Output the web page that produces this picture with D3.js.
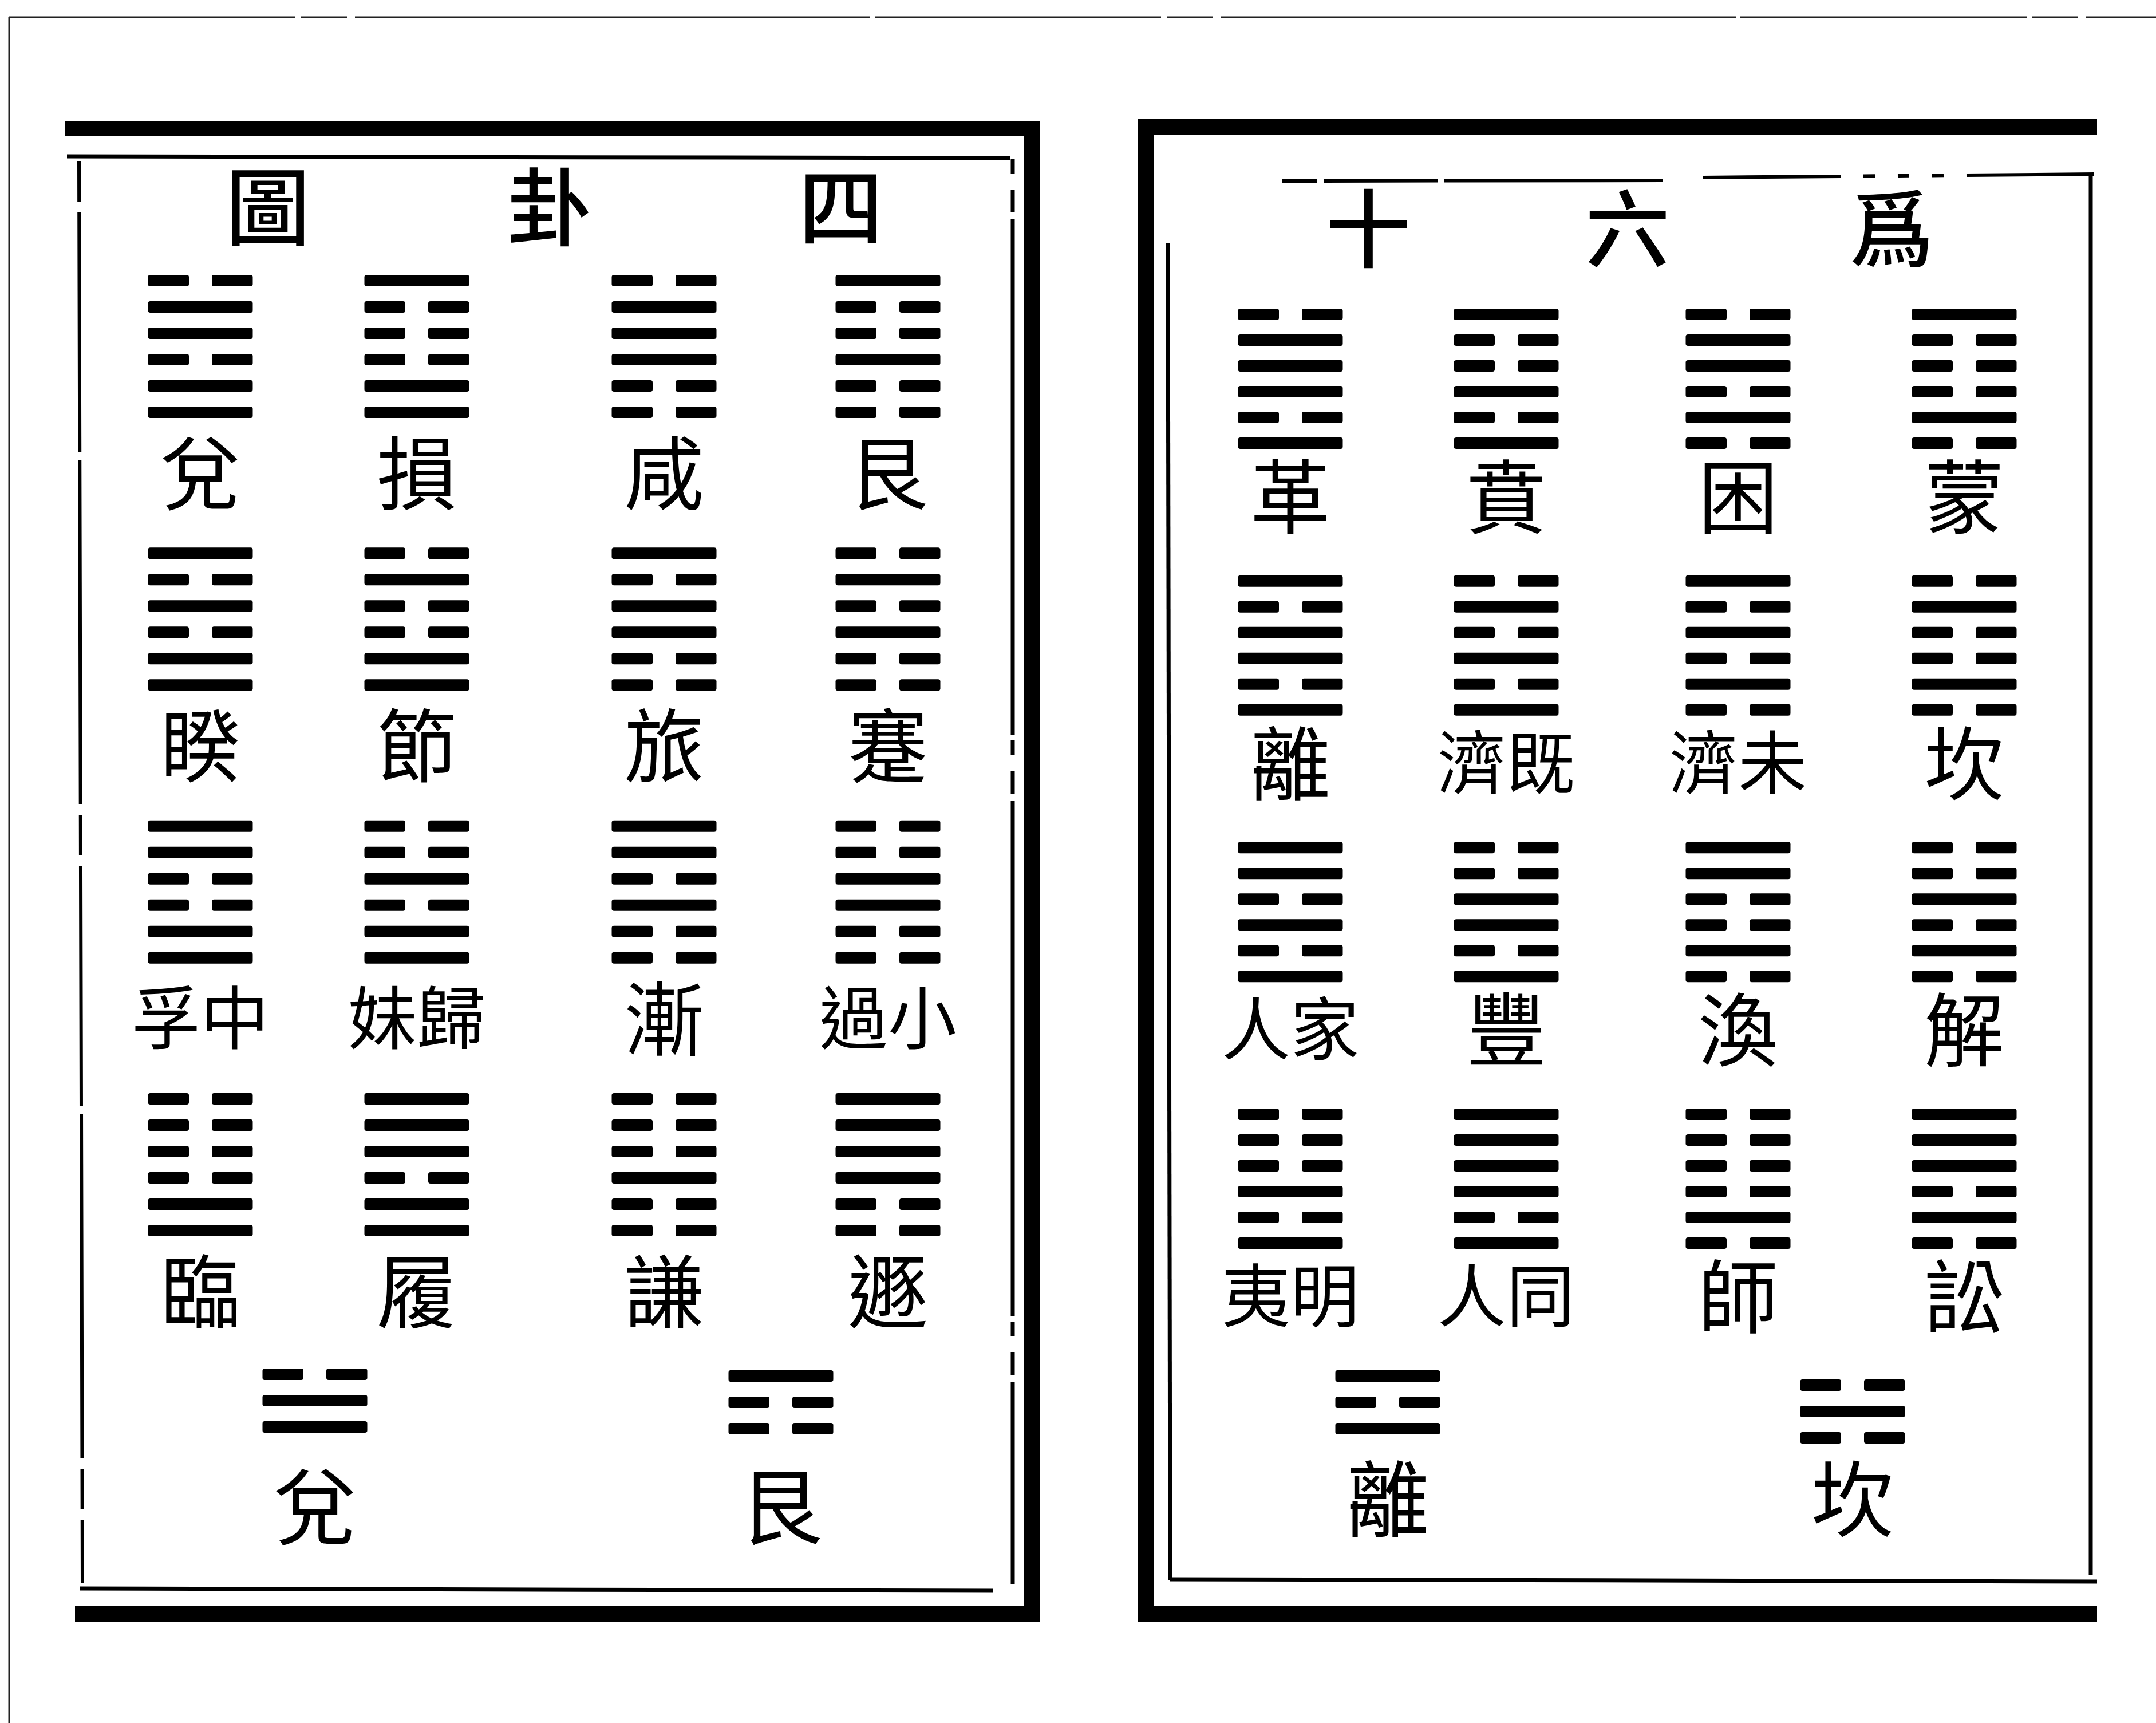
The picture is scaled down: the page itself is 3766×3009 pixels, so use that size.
<!DOCTYPE html>
<html><head><meta charset="utf-8">
<script src="https://cdn.jsdelivr.net/npm/d3@7"></script>
<style>body{margin:0;background:#fff}svg{display:block}</style>
</head><body>
<script>
// ---------------- data ----------------
const leftTitle  = ["圖", "卦", "四"];
const rightTitle = ["十", "六", "爲"];

// labels as printed (two-character names read right-to-left)
const leftNames = ["兌","損","咸","艮", "睽","節","旅","蹇", "孚中","妹歸","漸","過小", "臨","履","謙","遯"];
// line codes, bottom line first (1 = solid yang, 0 = broken yin)
const leftCodes = ["110110","110001","001110","001001",
                   "110101","110010","001101","001010",
                   "110011","110100","001011","001100",
                   "110000","110111","001000","001111"];

const rightNames = ["革","賁","困","蒙", "離","濟既","濟未","坎", "人家","豐","渙","解", "夷明","人同","師","訟"];
const rightCodes = ["101110","101001","010110","010001",
                    "101101","101010","010101","010010",
                    "101011","101100","010011","010100",
                    "101000","101111","010000","010111"];

const leftTrigramNames  = ["兌","艮"];
const leftTrigramCodes  = ["110","001"];
const rightTrigramNames = ["離","坎"];
const rightTrigramCodes = ["101","010"];

// ---------------- layout ----------------
const W = 3766, H = 3009;
const FONT = "'Noto Sans CJK TC','Noto Sans CJK SC',sans-serif";
const svg = d3.select("body").append("svg").attr("width", W).attr("height", H);
svg.append("rect").attr("width", W).attr("height", H).attr("fill", "#fff");

const INK = "#000";
const LINE_W = 183, GAP = 40, THICK = 20;

const pages = [
  { names: leftNames, codes: leftCodes,
    colX: d3.scaleOrdinal().domain([0,1,2,3]).range([350, 728, 1160, 1551]),
    rowY: d3.scaleLinear().domain([0,3]).range([480, 1909]),
    spacing: 46, labelDy: 338,
    title: leftTitle, titleX: d3.scaleOrdinal().domain([0,1,2]).range([468, 960, 1469]), titleY: 352,
    triNames: leftTrigramNames, triCodes: leftTrigramCodes,
    triX: d3.scaleOrdinal().domain([0,1]).range([550, 1364]), triTop: [2390, 2393], triLabelY: 2623 },
  { names: rightNames, codes: rightCodes,
    colX: d3.scaleOrdinal().domain([0,1,2,3]).range([2254, 2631, 3036, 3431]),
    rowY: d3.scaleLinear().domain([0,3]).range([539, 1936]),
    spacing: 45, labelDy: 320,
    title: rightTitle, titleX: d3.scaleOrdinal().domain([0,1,2]).range([2390, 2843, 3304]), titleY: 390,
    triNames: rightTrigramNames, triCodes: rightTrigramCodes,
    triX: d3.scaleOrdinal().domain([0,1]).range([2424, 3236]), triTop: [2393, 2409], triLabelY: 2610 }
];

// ---------------- frames ----------------
const frame = svg.append("g").attr("fill", INK);
// scan edge lines
svg.append("line").attr("x1", 16).attr("x2", W).attr("y1", 30).attr("y2", 30)
  .attr("stroke", "#222").attr("stroke-width", 3).attr("stroke-dasharray", "500,10,80,14,900,8");
svg.append("line").attr("x1", 16).attr("x2", 16).attr("y1", 30).attr("y2", H)
  .attr("stroke", "#222").attr("stroke-width", 3);

// left page thick border (top, right, bottom)
frame.append("rect").attr("x", 113).attr("y", 211).attr("width", 1702).attr("height", 26);
frame.append("rect").attr("x", 1789).attr("y", 211).attr("width", 27).attr("height", 2622);
frame.append("rect").attr("x", 131).attr("y", 2804).attr("width", 1686).attr("height", 28);
// left page inner thin frame
const thin = svg.append("g").attr("stroke", INK).attr("fill", "none");
thin.append("line").attr("x1", 117).attr("x2", 1765).attr("y1", 273).attr("y2", 276).attr("stroke-width", 7);
thin.append("line").attr("x1", 138).attr("x2", 144).attr("y1", 282).attr("y2", 2765).attr("stroke-width", 6)
  .attr("stroke-dasharray", "70,18,420,14,600,20");
thin.append("line").attr("x1", 1769).attr("x2", 1769).attr("y1", 278).attr("y2", 2767).attr("stroke-width", 7)
  .attr("stroke-dasharray", "25,28,40,12,900,10");
thin.append("line").attr("x1", 140).attr("x2", 1735).attr("y1", 2774).attr("y2", 2778).attr("stroke-width", 7);

// right page thick border (left, top, bottom)
frame.append("rect").attr("x", 1988).attr("y", 209).attr("width", 27).attr("height", 2624);
frame.append("rect").attr("x", 1988).attr("y", 208).attr("width", 1675).attr("height", 27);
frame.append("rect").attr("x", 1988).attr("y", 2805).attr("width", 1675).attr("height", 28);
// right page inner thin frame
thin.append("line").attr("x1", 2240).attr("x2", 2905).attr("y1", 316).attr("y2", 315).attr("stroke-width", 6)
  .attr("stroke-dasharray", "60,12,200,10,400");
thin.append("line").attr("x1", 2975).attr("x2", 3658).attr("y1", 310).attr("y2", 304).attr("stroke-width", 6)
  .attr("stroke-dasharray", "240,40,20,40,20,40,20,40,400");
thin.append("line").attr("x1", 3652).attr("x2", 3652).attr("y1", 304).attr("y2", 2750).attr("stroke-width", 7);
thin.append("line").attr("x1", 2040).attr("x2", 2044).attr("y1", 425).attr("y2", 2760).attr("stroke-width", 7);
thin.append("line").attr("x1", 2044).attr("x2", 3663).attr("y1", 2758).attr("y2", 2762).attr("stroke-width", 7);

// ---------------- marks ----------------
function drawGua(g, code, cx, top, spacing) {
  const n = code.length;
  const yS = d3.scaleLinear().domain([n - 1, 0]).range([top, top + (n - 1) * spacing]);
  const xS = d3.scaleLinear().domain([0, 1]).range([cx - LINE_W / 2, cx + LINE_W / 2]);
  const segs = [];
  code.split("").forEach((c, i) => {
    if (c === "1") segs.push({ x0: 0, x1: 1, i });
    else {
      const h = (GAP / 2) / LINE_W;
      segs.push({ x0: 0, x1: 0.5 - h, i });
      segs.push({ x0: 0.5 + h, x1: 1, i });
    }
  });
  g.selectAll(null).data(segs).join("rect")
    .attr("x", d => xS(d.x0)).attr("width", d => xS(d.x1) - xS(d.x0))
    .attr("y", d => yS(d.i)).attr("height", THICK)
    .attr("rx", 4).attr("fill", INK);
}

pages.forEach(p => {
  const g = svg.append("g");
  // title
  g.selectAll(null).data(p.title).join("text")
    .attr("x", (d, i) => p.titleX(i)).attr("y", p.titleY)
    .attr("text-anchor", "middle").attr("dominant-baseline", "central")
    .attr("font-family", FONT).attr("font-size", 148).attr("font-weight", 500)
    .attr("fill", INK).text(d => d);
  // hexagrams
  p.codes.forEach((code, k) => {
    const col = k % 4, row = Math.floor(k / 4);
    drawGua(g, code, p.colX(col), p.rowY(row), p.spacing);
  });
  // labels
  g.selectAll(null).data(p.names).join("text")
    .attr("x", (d, k) => p.colX(k % 4))
    .attr("y", (d, k) => p.rowY(Math.floor(k / 4)) + p.labelDy)
    .attr("text-anchor", "middle").attr("dominant-baseline", "central")
    .attr("font-family", FONT)
    .attr("font-size", d => d.length > 1 ? 120 : 140)
    .attr("fill", INK).text(d => d);
  // bottom trigrams
  p.triCodes.forEach((code, k) => drawGua(g, code, p.triX(k), p.triTop[k], 46));
  g.selectAll(null).data(p.triNames).join("text")
    .attr("x", (d, k) => p.triX(k)).attr("y", p.triLabelY)
    .attr("text-anchor", "middle").attr("dominant-baseline", "central")
    .attr("font-family", FONT).attr("font-size", 145)
    .attr("fill", INK).text(d => d);
});
</script>
</body></html>
